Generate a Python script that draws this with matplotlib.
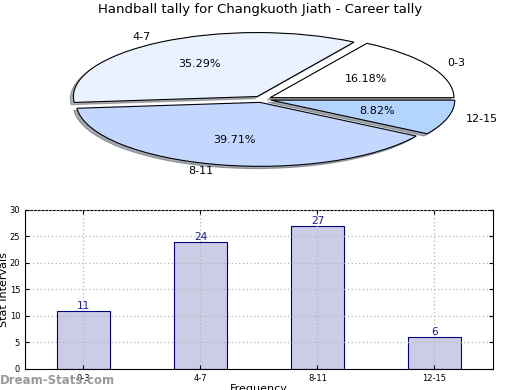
import matplotlib
matplotlib.use("Agg")
import matplotlib.pyplot as plt

categories = ["0-3", "4-7", "8-11", "12-15"]
values = [11, 24, 27, 6]
pie_colors = ["#ffffff", "#eaf1ff", "#c3d7ff", "#b2d4ff"]
title = "Handball tally for Changkuoth Jiath - Career tally"

fig = plt.figure(figsize=(5.2, 3.9), dpi=100)

# Pie
axp = fig.add_axes([0.055, 0.538, 0.898, 0.415])
wedges, texts, autotexts = axp.pie(
    values, labels=categories, colors=pie_colors, autopct="%.2f%%",
    startangle=0, counterclock=True, explode=[0.05] * 4,
    shadow={"ox": -0.012, "oy": -0.025, "shade": 0.6},
    wedgeprops=dict(edgecolor="black", linewidth=0.8),
    textprops=dict(fontsize=8), labeldistance=1.1, pctdistance=0.6)
axp.set_aspect("auto")
axp.set_xlim(-1.27, 1.27)
axp.set_ylim(-1.265, 1.265)
fig.text(0.5, 1 - 10 / 390, title, ha="center", va="center", fontsize=9.5)

# Bars
axb = fig.add_axes([0.048, 0.054, 0.9, 0.408])
x = list(range(len(categories)))
axb.bar(x, values, width=0.45, color="#ccccE6", edgecolor="#000080", linewidth=0.8, zorder=2)
for xi, v in zip(x, values):
    axb.text(xi, v, str(v), ha="center", va="bottom", fontsize=7.5, color="#1a1a99", zorder=3)
axb.set_xlim(-0.5, 3.5)
axb.set_ylim(0, 30)
axb.set_yticks([0, 5, 10, 15, 20, 25, 30])
axb.set_xticks(x)
axb.set_xticklabels(categories)
axb.tick_params(labelsize=6, direction="in", top=True, right=True, length=3)
axb.grid(True, linestyle=(0, (1, 2)), color="#b5b5b5", linewidth=0.9, zorder=3)
axb.set_axisbelow(False)
axb.set_ylabel("Stat Intervals", fontsize=8)
axb.yaxis.set_label_coords(-0.035, 0.5)
axb.set_xlabel("Frequency", fontsize=8)
axb.xaxis.set_label_coords(0.5, -0.095)

fig.text(0.0, 1 - 381 / 390, "Dream-Stats.com", ha="left", va="center", fontsize=8.5,
         color="#999999", fontweight="bold")

fig.savefig("out.png", dpi=100)
